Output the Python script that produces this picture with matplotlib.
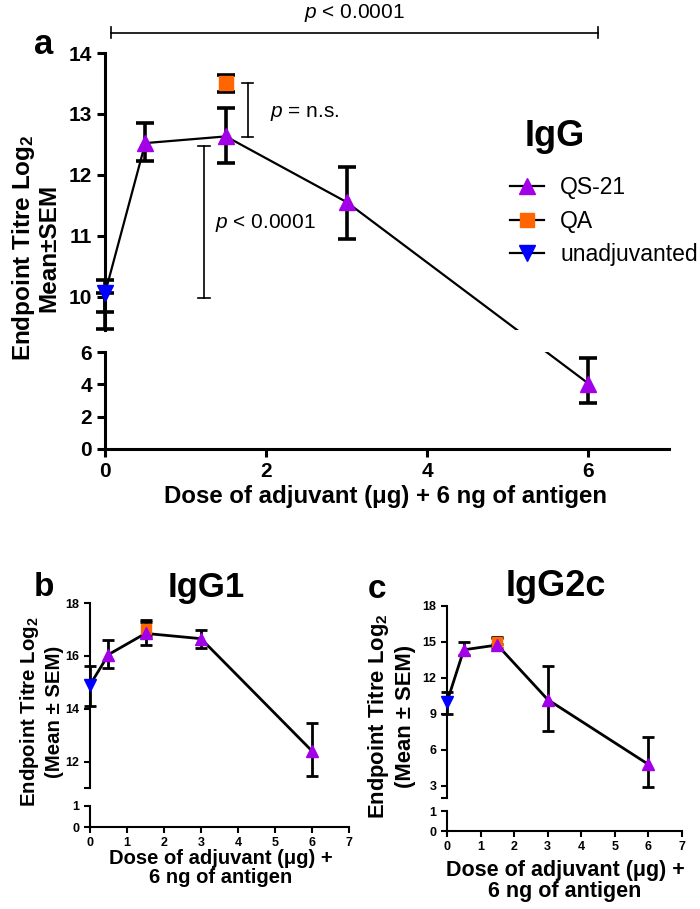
import matplotlib.pyplot as plt
from matplotlib.lines import Line2D

plt.rcParams['font.family'] = ['Liberation Sans', 'DejaVu Sans']
plt.rcParams['mathtext.fontset'] = 'custom'
plt.rcParams['mathtext.rm'] = 'Liberation Sans'
plt.rcParams['mathtext.it'] = 'Liberation Sans:italic'
plt.rcParams['mathtext.bf'] = 'Liberation Sans:bold'

purple = '#A200E6'
orange = '#FF6600'
blue = '#0000FF'

# doses of QS-21 (ug)
dose = [0.5, 1.5, 3, 6]

# panel a: IgG
a_qs21 = [12.52, 12.63, 11.55, 4.05]
a_qs21_lo = [12.23, 12.2, 10.95, 2.85]
a_qs21_hi = [12.85, 13.1, 12.13, 5.6]
a_qa, a_qa_lo, a_qa_hi = 13.5, 13.36, 13.64
a_un, a_un_lo, a_un_hi = 10.05, 9.75, 10.27
a_un_lo2 = 9.47

# panel b: IgG1
b_qs21 = [16.05, 16.85, 16.65, 12.4]
b_qs21_lo = [15.55, 16.4, 16.3, 11.45]
b_qs21_hi = [16.6, 17.35, 16.98, 13.45]
b_qa, b_qa_lo, b_qa_hi = 17.0, 16.75, 17.3
b_un, b_un_lo, b_un_hi = 14.9, 14.1, 15.6

# panel c: IgG2c
c_qs21 = [14.35, 14.75, 10.2, 4.8]
c_qs21_lo = [13.9, 14.5, 7.6, 2.95]
c_qs21_hi = [15.0, 15.4, 13.0, 7.1]
c_qa, c_qa_lo, c_qa_hi = 15.0, 14.8, 15.3
c_un, c_un_lo, c_un_hi = 10.0, 9.0, 10.8

fig = plt.figure(figsize=(7, 9.09), dpi=100)
W, H = 700, 909


def rect(l, r, t, b):
    return [l / W, 1 - b / H, (r - l) / W, (b - t) / H]


def make_axes(r_top, r_bot, ylim_top, ylim_bot, yt_top, yt_bot, xticks, lw, tl, fs):
    ax1 = fig.add_axes(r_top)
    ax2 = fig.add_axes(r_bot)
    for ax in (ax1, ax2):
        ax.patch.set_alpha(0)
        ax.spines['right'].set_visible(False)
        ax.spines['top'].set_visible(False)
        ax.spines['left'].set_linewidth(lw)
        ax.spines['bottom'].set_linewidth(lw)
        ax.set_xlim(0, 7)
        ax.tick_params(width=lw, length=tl, labelsize=fs, direction='out')
    ax1.spines['bottom'].set_visible(False)
    ax1.tick_params(axis='x', bottom=False, labelbottom=False)
    ax1.set_ylim(*ylim_top)
    ax2.set_ylim(*ylim_bot)
    ax1.set_yticks(yt_top)
    ax2.set_yticks(yt_bot)
    ax2.set_xticks(xticks)
    for ax in (ax1, ax2):
        for lab in ax.get_yticklabels() + ax.get_xticklabels():
            lab.set_fontweight('bold')
    return ax1, ax2


def errbar(ax, x, y, lo, hi, elw, cap):
    eb = ax.errorbar(x, y, yerr=[[y - lo], [hi - y]], fmt='none', ecolor='k',
                     elinewidth=elw, capsize=cap, capthick=elw, zorder=3)
    for art in list(eb.lines[1]) + list(eb.lines[2]):
        art.set_clip_on(False)


def panel(axes, qs, qs_lo, qs_hi, qa, qa_lo, qa_hi, un, un_lo, un_hi, elw, cap, ms, llw):
    ax1, ax2 = axes
    xs = [0] + dose
    ys = [un] + qs
    ylo = ax1.get_ylim()[0]
    # line is straight on screen; map every point into each axis' data space
    for ax in axes:
        px, py = [], []
        for x, y in zip(xs, ys):
            src = ax1 if y > ylo else ax2
            disp = src.transData.transform((x, y))
            dx, dy = ax.transData.inverted().transform(disp)
            px.append(dx)
            py.append(dy)
        ax.plot(px, py, color='k', lw=llw, zorder=2)
    for x, y, lo, hi in zip(dose, qs, qs_lo, qs_hi):
        ax = ax1 if y > ylo else ax2
        errbar(ax, x, y, lo, hi, elw, cap)
        ax.plot(x, y, marker='^', color=purple, ms=ms, clip_on=False, zorder=5, ls='none')
    errbar(ax1, 1.5, qa, qa_lo, qa_hi, elw, cap)
    ax1.plot(1.5, qa, marker='s', color=orange, ms=ms * 0.85, clip_on=False, zorder=4, ls='none')
    errbar(ax1, 0, un, un_lo, un_hi, elw, cap)
    ax1.plot(0, un, marker='v', color=blue, ms=ms, clip_on=False, zorder=5, ls='none')


# ---------- panel a ----------
a1, a2 = make_axes(rect(105, 669, 53, 330), rect(105, 669, 352, 449),
                   (9.45, 14), (0, 6), [10, 11, 12, 13, 14], [0, 2, 4, 6],
                   [0, 2, 4, 6], 2.2, 6, 15)
panel((a1, a2), a_qs21, a_qs21_lo, a_qs21_hi, a_qa, a_qa_lo, a_qa_hi,
      a_un, a_un_lo, a_un_hi, 2.6, 6.5, 12, 1.6)
errbar(a1, 0, a_un, a_un_lo2, a_un, 2.6, 6.5)

# significance brackets
a1.plot([0.07, 6.12], [14.33, 14.33], color='k', lw=1.2, clip_on=False)
for xe in (0.07, 6.12):
    a1.plot([xe, xe], [14.25, 14.43], color='k', lw=1.2, clip_on=False)
a1.text(3.1, 14.66, r'$\it{p}$ < 0.0001', fontsize=15, ha='center', va='center')

a1.plot([1.77, 1.77], [12.62, 13.5], color='k', lw=1.2)
for ye in (12.62, 13.5):
    a1.plot([1.7, 1.84], [ye, ye], color='k', lw=1.2)
a1.text(2.05, 13.0, r'$\it{p}$ = n.s.', fontsize=15, ha='left', va='center')

a1.plot([1.23, 1.23], [9.97, 12.47], color='k', lw=1.2)
for ye in (9.97, 12.47):
    a1.plot([1.16, 1.30], [ye, ye], color='k', lw=1.2)
a1.text(1.37, 11.2, r'$\it{p}$ < 0.0001', fontsize=15, ha='left', va='center')

handles = [
    Line2D([], [], color='k', lw=1.6, marker='^', mfc=purple, mec=purple, ms=12),
    Line2D([], [], color='k', lw=1.6, marker='s', mfc=orange, mec=orange, ms=10),
    Line2D([], [], color='k', lw=1.6, marker='v', mfc=blue, mec=blue, ms=12),
]
fig.legend(handles, ['QS-21', 'QA', 'unadjuvanted'], loc='upper left',
           bbox_to_anchor=(499 / W, 1 - 165 / H), frameon=False, fontsize=16.5,
           handlelength=1.45, handletextpad=0.72, labelspacing=0.45, borderpad=0)
fig.text(555 / W, 1 - 136 / H, 'IgG', fontsize=26, fontweight='bold', ha='center', va='center')

fig.text(44 / W, 1 - 44 / H, 'a', fontsize=25, fontweight='bold', ha='center', va='center')
fig.text(35 / W, 1 - 248 / H, 'Endpoint Titre Log$_\\mathbf{2}$\nMean±SEM', fontsize=17.5,
         fontweight='bold', rotation=90, ha='center', va='center', linespacing=1.05)
fig.text(385 / W, 1 - 497 / H, 'Dose of adjuvant (μg) + 6 ng of antigen', fontsize=17.3,
         fontweight='bold', ha='center', va='center')

# ---------- panel b ----------
b1, b2 = make_axes(rect(90, 349, 603, 788), rect(90, 349, 806, 827),
                   (11, 18), (0, 1), [12, 14, 16, 18], [0, 1],
                   range(8), 1.5, 4, 9)
b1.set_yticks([11], minor=True)
b1.tick_params(which='minor', length=4, width=1.5)
panel((b1, b2), b_qs21, b_qs21_lo, b_qs21_hi, b_qa, b_qa_lo, b_qa_hi,
      b_un, b_un_lo, b_un_hi, 2.0, 4.5, 9, 2.0)
fig.text(44 / W, 1 - 588 / H, 'b', fontsize=24, fontweight='bold', ha='center', va='center')
fig.text(206 / W, 1 - 588 / H, 'IgG1', fontsize=25, fontweight='bold', ha='center', va='center')
fig.text(41 / W, 1 - 712 / H, 'Endpoint Titre Log$_\\mathbf{2}$\n(Mean ± SEM)', fontsize=14.7,
         fontweight='bold', rotation=90, ha='center', va='center', linespacing=1.3)
fig.text(221 / W, 1 - 868 / H, 'Dose of adjuvant (μg) +\n6 ng of antigen', fontsize=14.5,
         fontweight='bold', ha='center', va='center', linespacing=1.05)

# ---------- panel c ----------
c1, c2 = make_axes(rect(447, 682, 606, 798), rect(447, 682, 811, 831),
                   (2, 18), (0, 1), [3, 6, 9, 12, 15, 18], [0, 1],
                   range(8), 1.5, 4, 9)
c1.set_yticks([2], minor=True)
c1.tick_params(which='minor', length=4, width=1.5)
panel((c1, c2), c_qs21, c_qs21_lo, c_qs21_hi, c_qa, c_qa_lo, c_qa_hi,
      c_un, c_un_lo, c_un_hi, 2.0, 4.5, 9, 2.0)
fig.text(377 / W, 1 - 590 / H, 'c', fontsize=24, fontweight='bold', ha='center', va='center')
fig.text(556 / W, 1 - 587 / H, 'IgG2c', fontsize=26, fontweight='bold', ha='center', va='center')
fig.text(391 / W, 1 - 716 / H, 'Endpoint Titre Log$_\\mathbf{2}$\n(Mean ± SEM)', fontsize=15.8,
         fontweight='bold', rotation=90, ha='center', va='center', linespacing=1.2)
fig.text(565 / W, 1 - 881 / H, 'Dose of adjuvant (μg) +\n6 ng of antigen', fontsize=15.5,
         fontweight='bold', ha='center', va='center', linespacing=1.05)

fig.savefig('out.png', dpi=100)
